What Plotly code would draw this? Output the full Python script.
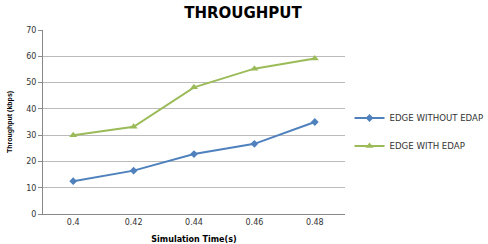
import plotly.graph_objects as go

categories = ["0.4", "0.42", "0.44", "0.46", "0.48"]
without_edap = [12.5, 16.5, 22.8, 26.7, 35.0]
with_edap = [30.0, 33.2, 48.2, 55.3, 59.2]
y_ticks = [0, 10, 20, 30, 40, 50, 60, 70]

fig = go.Figure()
fig.add_trace(go.Scatter(
    x=categories, y=without_edap, name="EDGE WITHOUT EDAP", mode="lines+markers",
    line=dict(color="#4F81BD", width=2), marker=dict(symbol="diamond", size=6, color="#4F81BD"),
    legend="legend", showlegend=True))
fig.add_trace(go.Scatter(
    x=categories, y=with_edap, name="EDGE WITH EDAP", mode="lines+markers",
    line=dict(color="#9BBB59", width=2), marker=dict(symbol="triangle-up", size=7, color="#9BBB59"),
    legend="legend2", showlegend=True))

legend_common = dict(font=dict(family="DejaVu Sans", size=8.6, color="#333333"),
                     bgcolor="rgba(0,0,0,0)", xanchor="left", yanchor="middle",
                     itemwidth=30, tracegroupgap=0, visible=True)
fig.update_layout(
    width=488, height=244,
    showlegend=True,
    margin=dict(l=43, r=143, t=30, b=30, autoexpand=False),
    paper_bgcolor="white", plot_bgcolor="white",
    title=dict(text="<b>THROUGHPUT</b>", x=243/488, xanchor="center", y=1-13/244, yanchor="middle",
               font=dict(family="DejaVu Sans", size=15, color="black")),
    legend=dict(x=1.015, y=(214-118)/184, **legend_common),
    legend2=dict(x=1.015, y=(214-146)/184, **legend_common),
    xaxis=dict(type="category", range=[-0.5, 4.5], showgrid=False, automargin=False,
               showline=True, linecolor="#888888", linewidth=1,
               ticks="", tickfont=dict(family="DejaVu Sans", size=8, color="#333333"),
               title=dict(text="<b>Simulation Time(s)</b>", standoff=16,
                          font=dict(family="DejaVu Sans", size=8, color="black"))),
    yaxis=dict(range=[0, 70], tickvals=y_ticks, showgrid=True, gridcolor="#BBBBBB", gridwidth=1,
               automargin=False,
               showline=True, linecolor="#888888", linewidth=1, zeroline=False,
               ticks="outside", ticklen=4, tickcolor="#888888",
               tickfont=dict(family="DejaVu Sans", size=8, color="#333333"),
               title=dict(text="<b>Throughput (kbps)</b>", standoff=12,
                          font=dict(family="Liberation Sans Narrow, Liberation Sans", size=7, color="black"))),
)
fig.write_html("out.html")
